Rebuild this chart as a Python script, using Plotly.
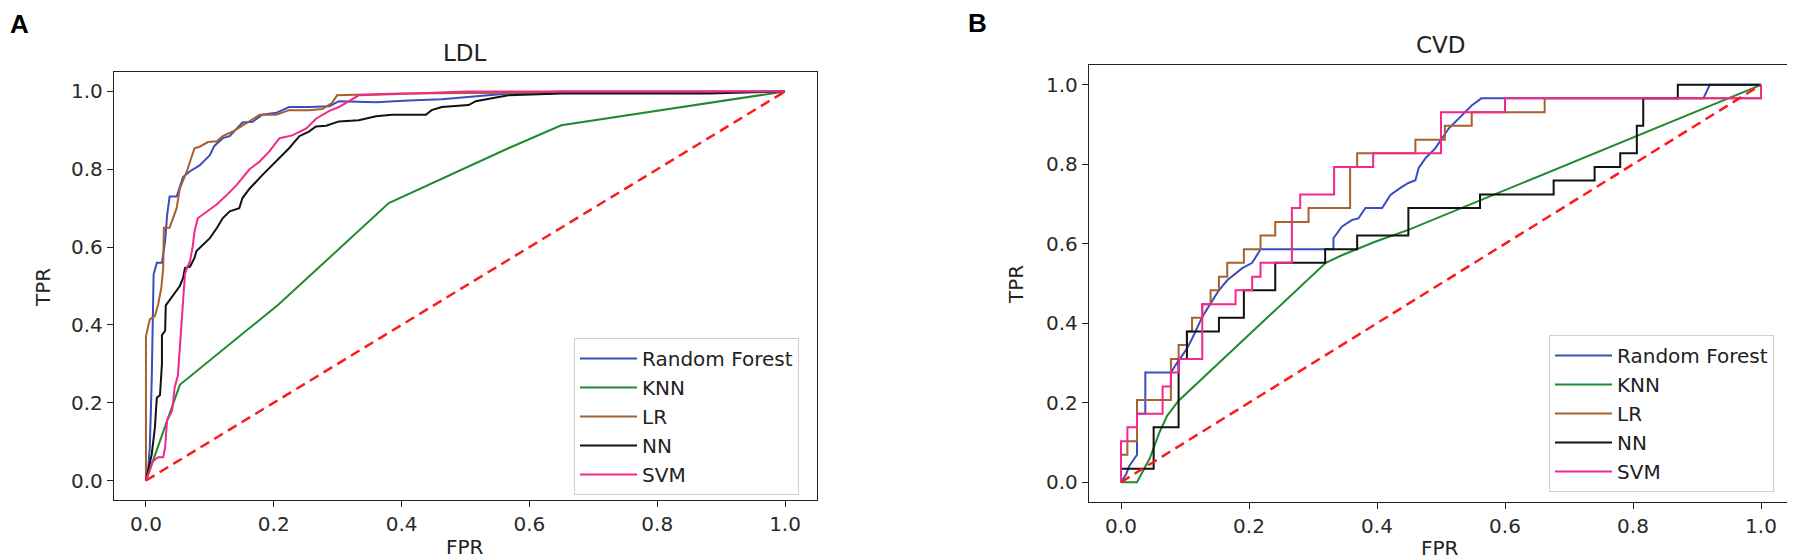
import plotly.graph_objects as go

W, H = 1795, 559

# ROC curves (LDL), as (FPR, TPR) vertices
ldl_rf = [(0, 0), (0.003, 0.02), (0.006, 0.085), (0.009, 0.256), (0.011, 0.44), (0.012, 0.53),
          (0.017, 0.56), (0.025, 0.56), (0.03, 0.615), (0.033, 0.68), (0.037, 0.73), (0.048, 0.73),
          (0.058, 0.78), (0.069, 0.795), (0.084, 0.81), (0.1, 0.836), (0.107, 0.86), (0.12, 0.88),
          (0.131, 0.885), (0.151, 0.92), (0.167, 0.922), (0.182, 0.94), (0.204, 0.945), (0.224, 0.96),
          (0.255, 0.96), (0.287, 0.962), (0.302, 0.975), (0.36, 0.972), (0.411, 0.977), (0.463, 0.98),
          (0.567, 0.995), (0.65, 1.0), (1.0, 1.0)]
ldl_knn = [(0, 0), (0.053, 0.246), (0.207, 0.452), (0.38, 0.713), (0.567, 0.854), (0.65, 0.913), (1.0, 1.0)]
ldl_lr = [(0, 0), (0.0, 0.37), (0.004, 0.40), (0.006, 0.414), (0.014, 0.423), (0.019, 0.452), (0.024, 0.495),
          (0.027, 0.546), (0.028, 0.65), (0.037, 0.65), (0.048, 0.70), (0.053, 0.75), (0.064, 0.795),
          (0.076, 0.854), (0.084, 0.858), (0.097, 0.87), (0.111, 0.872), (0.12, 0.885), (0.136, 0.897),
          (0.151, 0.913), (0.178, 0.94), (0.204, 0.94), (0.224, 0.952), (0.255, 0.952), (0.276, 0.955),
          (0.291, 0.97), (0.299, 0.99), (0.4, 0.995), (1.0, 1.0)]
ldl_nn = [(0, 0), (0.009, 0.067), (0.014, 0.136), (0.017, 0.213), (0.022, 0.22), (0.025, 0.30), (0.025, 0.374),
          (0.03, 0.385), (0.031, 0.45), (0.037, 0.464), (0.048, 0.487), (0.053, 0.50), (0.058, 0.52),
          (0.061, 0.546), (0.069, 0.55), (0.076, 0.572), (0.079, 0.59), (0.089, 0.605), (0.1, 0.623),
          (0.111, 0.649), (0.12, 0.674), (0.131, 0.692), (0.146, 0.70), (0.151, 0.726), (0.162, 0.75),
          (0.182, 0.785), (0.204, 0.82), (0.224, 0.854), (0.24, 0.885), (0.255, 0.897), (0.266, 0.91),
          (0.282, 0.912), (0.302, 0.923), (0.333, 0.926), (0.36, 0.936), (0.385, 0.94), (0.438, 0.94),
          (0.447, 0.952), (0.463, 0.96), (0.505, 0.965), (0.516, 0.975), (0.567, 0.99), (0.65, 0.995),
          (0.88, 0.995), (1.0, 1.0)]
ldl_svm = [(0, 0), (0.011, 0.05), (0.019, 0.06), (0.027, 0.06), (0.03, 0.085), (0.033, 0.154), (0.041, 0.18),
           (0.045, 0.24), (0.05, 0.27), (0.053, 0.34), (0.055, 0.385), (0.058, 0.47), (0.061, 0.53),
           (0.064, 0.546), (0.069, 0.564), (0.073, 0.6), (0.076, 0.64), (0.081, 0.674), (0.095, 0.69),
           (0.111, 0.71), (0.126, 0.733), (0.142, 0.76), (0.162, 0.80), (0.178, 0.82), (0.193, 0.846),
           (0.209, 0.88), (0.229, 0.887), (0.251, 0.905), (0.266, 0.93), (0.287, 0.95), (0.302, 0.96),
           (0.318, 0.975), (0.322, 0.98), (0.333, 0.99), (0.42, 0.995), (0.5, 1.0), (1.0, 1.0)]

# ROC curves (CVD)
cvd_rf = [(0, 0), (0.008, 0.02), (0.013, 0.041), (0.025, 0.069), (0.025, 0.172), (0.038, 0.172),
          (0.038, 0.276), (0.078, 0.276), (0.085, 0.294), (0.103, 0.336), (0.111, 0.361), (0.127, 0.416),
          (0.14, 0.45), (0.153, 0.483), (0.166, 0.508), (0.179, 0.525), (0.189, 0.538), (0.205, 0.552),
          (0.218, 0.586), (0.332, 0.586), (0.332, 0.614), (0.345, 0.643), (0.361, 0.66), (0.371, 0.664),
          (0.382, 0.69), (0.408, 0.69), (0.421, 0.723), (0.436, 0.74), (0.449, 0.753), (0.46, 0.76),
          (0.465, 0.79), (0.476, 0.816), (0.491, 0.84), (0.512, 0.89), (0.538, 0.931), (0.548, 0.948),
          (0.563, 0.966), (0.91, 0.966), (0.92, 1.0), (1.0, 1.0)]
cvd_knn = [(0, 0), (0.025, 0.0), (0.045, 0.06), (0.06, 0.125), (0.072, 0.167), (0.09, 0.205),
           (0.32, 0.552), (0.345, 0.571), (0.397, 0.605), (0.449, 0.635), (1.0, 1.0)]
cvd_lr = [(0, 0), (0, 0.069), (0.01, 0.069), (0.01, 0.103), (0.025, 0.103), (0.025, 0.207), (0.078, 0.207),
          (0.078, 0.31), (0.09, 0.31), (0.09, 0.345), (0.103, 0.345), (0.103, 0.379), (0.111, 0.379),
          (0.111, 0.414), (0.127, 0.414), (0.127, 0.448), (0.14, 0.448), (0.14, 0.483), (0.153, 0.483),
          (0.153, 0.517), (0.166, 0.517), (0.166, 0.552), (0.192, 0.552), (0.192, 0.586), (0.218, 0.586),
          (0.218, 0.621), (0.241, 0.621), (0.241, 0.655), (0.293, 0.655), (0.293, 0.69), (0.358, 0.69),
          (0.358, 0.793), (0.369, 0.793), (0.369, 0.828), (0.46, 0.828), (0.46, 0.862), (0.506, 0.862),
          (0.506, 0.897), (0.548, 0.897), (0.548, 0.931), (0.662, 0.931), (0.662, 0.966), (1.0, 0.966),
          (1.0, 1.0)]
cvd_nn = [(0, 0), (0, 0.034), (0.051, 0.034), (0.051, 0.138), (0.09, 0.138), (0.09, 0.31), (0.103, 0.31),
          (0.103, 0.379), (0.153, 0.379), (0.153, 0.414), (0.192, 0.414), (0.192, 0.483), (0.241, 0.483),
          (0.241, 0.552), (0.319, 0.552), (0.319, 0.586), (0.369, 0.586), (0.369, 0.621), (0.449, 0.621),
          (0.449, 0.69), (0.561, 0.69), (0.561, 0.724), (0.676, 0.724), (0.676, 0.759), (0.74, 0.759),
          (0.74, 0.793), (0.78, 0.793), (0.78, 0.828), (0.806, 0.828), (0.806, 0.897), (0.816, 0.897),
          (0.816, 0.966), (0.87, 0.966), (0.87, 1.0), (1.0, 1.0)]
cvd_svm = [(0, 0), (0, 0.103), (0.01, 0.103), (0.01, 0.138), (0.025, 0.138), (0.025, 0.172), (0.065, 0.172),
           (0.065, 0.241), (0.078, 0.241), (0.078, 0.276), (0.09, 0.276), (0.09, 0.31), (0.127, 0.31),
           (0.127, 0.448), (0.179, 0.448), (0.179, 0.483), (0.205, 0.483), (0.205, 0.517), (0.218, 0.517),
           (0.218, 0.552), (0.267, 0.552), (0.267, 0.69), (0.28, 0.69), (0.28, 0.724), (0.333, 0.724),
           (0.333, 0.793), (0.394, 0.793), (0.394, 0.828), (0.5, 0.828), (0.5, 0.931), (0.6, 0.931),
           (0.6, 0.966), (1.0, 0.966), (1.0, 1.0)]

chance = [0, 1]
model_names = ["Random Forest", "KNN", "LR", "NN", "SVM"]
model_colors = ["#3b4cc0", "#1f8a30", "#a5622d", "#111111", "#f2288e"]
tick_vals = [0.0, 0.2, 0.4, 0.6, 0.8, 1.0]

fig = go.Figure()

ldl_sets = [ldl_rf, ldl_knn, ldl_lr, ldl_nn, ldl_svm]
cvd_sets = [cvd_rf, cvd_knn, cvd_lr, cvd_nn, cvd_svm]
for name, color, ldl, cvd in zip(model_names, model_colors, ldl_sets, cvd_sets):
    fpr, tpr = zip(*ldl)
    fig.add_trace(go.Scatter(x=fpr, y=tpr, mode="lines", name=name, line=dict(color=color, width=2),
                             xaxis="x", yaxis="y", legend="legend"))
    fpr, tpr = zip(*cvd)
    fig.add_trace(go.Scatter(x=fpr, y=tpr, mode="lines", name=name, line=dict(color=color, width=2),
                             xaxis="x2", yaxis="y2", legend="legend2"))

# chance line on both panels
for xa, ya in [("x", "y"), ("x2", "y2")]:
    fig.add_trace(go.Scatter(x=chance, y=chance, mode="lines", showlegend=False,
                             line=dict(color="#ff1a1a", width=2.5, dash="10px,6px"), xaxis=xa, yaxis=ya))

axis_style = dict(range=[-0.05, 1.05], tickvals=tick_vals, tickformat=".1f", showline=True, mirror=True,
                  linecolor="#222", linewidth=1.3, ticks="outside", ticklen=6, tickwidth=1.3, tickcolor="#222",
                  showgrid=False, zeroline=False, tickfont=dict(family="DejaVu Sans", size=20, color="#2a2a2a"))

legend_style = dict(xanchor="left", yanchor="top", bgcolor="rgba(255,255,255,0.85)", bordercolor="#cfcfcf",
                    borderwidth=1, itemwidth=57, font=dict(family="DejaVu Sans", size=20, color="#222"))

fig.update_layout(
    width=W, height=H, autosize=False,
    margin=dict(l=0, r=0, t=0, b=0),
    paper_bgcolor="white", plot_bgcolor="white",
    xaxis=dict(axis_style, domain=[106 / W, 809 / W], anchor="y"),
    yaxis=dict(axis_style, domain=[1 - 492 / H, 1 - 64 / H], anchor="x"),
    xaxis2=dict(axis_style, domain=[1081 / W, 1785 / W], anchor="y2"),
    yaxis2=dict(axis_style, domain=[1 - 494 / H, 1 - 57 / H], anchor="x2"),
    legend=dict(legend_style, x=566 / W, y=1 - 330 / H),
    legend2=dict(legend_style, x=1541 / W, y=1 - 327 / H),
)

# panel letters, titles and axis labels
label_font = dict(family="DejaVu Sans", size=20, color="#222")
notes = [
    ("<b>A</b>", 11, 16, dict(family="Liberation Sans", size=26, color="black"), 0),
    ("<b>B</b>", 969, 15, dict(family="Liberation Sans", size=26, color="black"), 0),
    ("LDL", 457, 45, dict(family="DejaVu Sans", size=23, color="#222"), 0),
    ("CVD", 1433, 37, dict(family="DejaVu Sans", size=23, color="#222"), 0),
    ("FPR", 457, 539, label_font, 0),
    ("FPR", 1432, 540, label_font, 0),
    ("TPR", 35, 280, label_font, -90),
    ("TPR", 1008, 277, label_font, -90),
]
for text, px, py, font, angle in notes:
    fig.add_annotation(text=text, x=px / W, y=1 - py / H, xref="paper", yref="paper",
                       xanchor="center", yanchor="middle", showarrow=False, font=font, textangle=angle,
                       borderpad=0)

fig.write_html("out.html")
